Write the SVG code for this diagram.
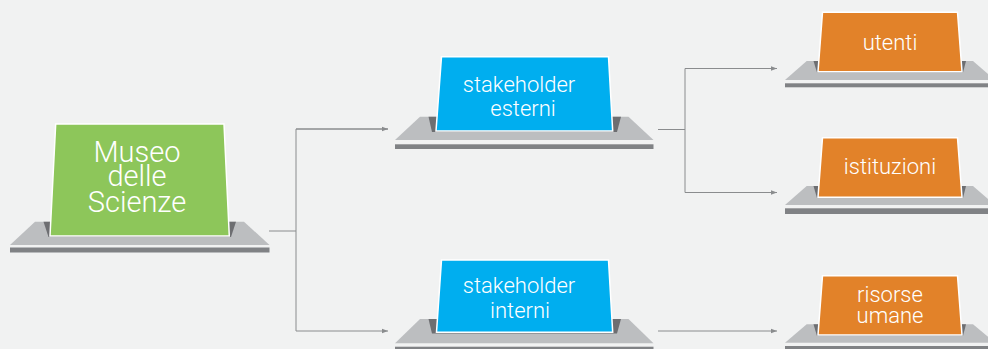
<svg xmlns="http://www.w3.org/2000/svg" width="988" height="349" viewBox="0 0 988 349">
<defs>
<style>
.base{fill:#bcbec0}
.band{fill:#808285}
.slot{fill:#6d6e71}
.card{stroke:#ffffff;stroke-width:1.5}
.green{fill:#8dc65a}
.blue{fill:#00aeef}
.orange{fill:#e28229}
.lbl{fill:#ffffff;font-family:Roboto,"Liberation Sans",sans-serif;font-weight:300;text-anchor:middle}
.conn{fill:none;stroke:#8a8c8e;stroke-width:1}
</style>
<marker id="arr" viewBox="0 0 6 6" refX="6" refY="3" markerWidth="6" markerHeight="6" markerUnits="userSpaceOnUse" orient="auto">
<path d="M0,0.8 L6,3 L0,5.2 Z" fill="#8a8c8e"/>
</marker>
</defs>
<rect width="988" height="349" fill="#f1f2f2"/>
<g id="connectors">
<polyline class="conn" points="269,231 296,231"/>
<polyline class="conn" points="388,129 296,129 296,331 388,331" marker-end="url(#arr)"/>
<line class="conn" x1="296" y1="129" x2="388" y2="129" marker-end="url(#arr)"/>
<polyline class="conn" points="658,129.5 685,129.5"/>
<polyline class="conn" points="777,68.5 685,68.5 685,192.5 777,192.5" marker-end="url(#arr)"/>
<line class="conn" x1="685" y1="68.5" x2="777" y2="68.5" marker-end="url(#arr)"/>
<line class="conn" x1="658" y1="331" x2="777" y2="331" marker-end="url(#arr)"/>
</g>
<g id="museo">
<polygon class="base" points="35,221.7 244,221.7 269.5,245 10,245"/>
<rect class="band" x="10" y="247.5" width="259.5" height="5"/>
<polygon class="slot" points="43.5,221.7 236,221.7 231,237 48.5,237"/>
<polygon class="card green" points="55.7,124 224,124 229.3,236 50,236"/>
<text class="lbl" font-size="29"><tspan x="137" y="161.5">Museo</tspan><tspan x="137" y="186">delle</tspan><tspan x="137" y="211.5">Scienze</tspan></text>
</g>
<g id="stakeholder-esterni">
<polygon class="base" points="420,116.7 628.5,116.7 653.5,140 395,140"/>
<rect class="band" x="395" y="144.3" width="258.5" height="4.7"/>
<polygon class="slot" points="428.5,116.7 621,116.7 617,132 432,132"/>
<polygon class="card blue" points="441.5,56.7 608.5,56.7 612.7,131 436,131"/>
<text class="lbl" font-size="22"><tspan x="519" y="91.7">stakeholder</tspan><tspan x="523" y="115.7">esterni</tspan></text>
</g>
<g id="stakeholder-interni">
<polygon class="base" points="420,319 628.5,319 653.5,343.3 395,343.3"/>
<rect class="band" x="395" y="346.7" width="258.5" height="4"/>
<polygon class="slot" points="428.5,319 621,319 617,333.5 432,333.5"/>
<polygon class="card blue" points="441.5,260 608.5,260 612.7,332.3 436.5,332.3"/>
<text class="lbl" font-size="22"><tspan x="519" y="293.3">stakeholder</tspan><tspan x="520" y="318.3">interni</tspan></text>
</g>
<g id="utenti">
<polygon class="base" points="806.7,61 973,61 995,80 785,80"/>
<rect class="band" x="785" y="83.3" width="210" height="4"/>
<polygon class="slot" points="813.5,61 966,61 963,72.5 817,72.5"/>
<polygon class="card orange" points="822.5,12.3 957.5,12.3 962,71.7 818,71.7"/>
<text class="lbl" font-size="22" x="890" y="50">utenti</text>
</g>
<g id="istituzioni">
<polygon class="base" points="806.7,186 973,186 995,205 785,205"/>
<rect class="band" x="785" y="208.3" width="210" height="5.7"/>
<polygon class="slot" points="813.5,186 966,186 963,198 817,198"/>
<polygon class="card orange" points="822.5,137.7 957.5,137.7 962,197.3 818,197.3"/>
<text class="lbl" font-size="22" x="890" y="174">istituzioni</text>
</g>
<g id="risorse-umane">
<polygon class="base" points="806.7,324.3 973,324.3 995,342.7 785,342.7"/>
<rect class="band" x="785" y="346" width="210" height="4"/>
<polygon class="slot" points="813.5,324.3 966,324.3 963,336 817,336"/>
<polygon class="card orange" points="822.5,275.7 957.5,275.7 962,335 818,335"/>
<text class="lbl" font-size="22"><tspan x="890" y="301.7">risorse</tspan><tspan x="890" y="323.3">umane</tspan></text>
</g>
</svg>
